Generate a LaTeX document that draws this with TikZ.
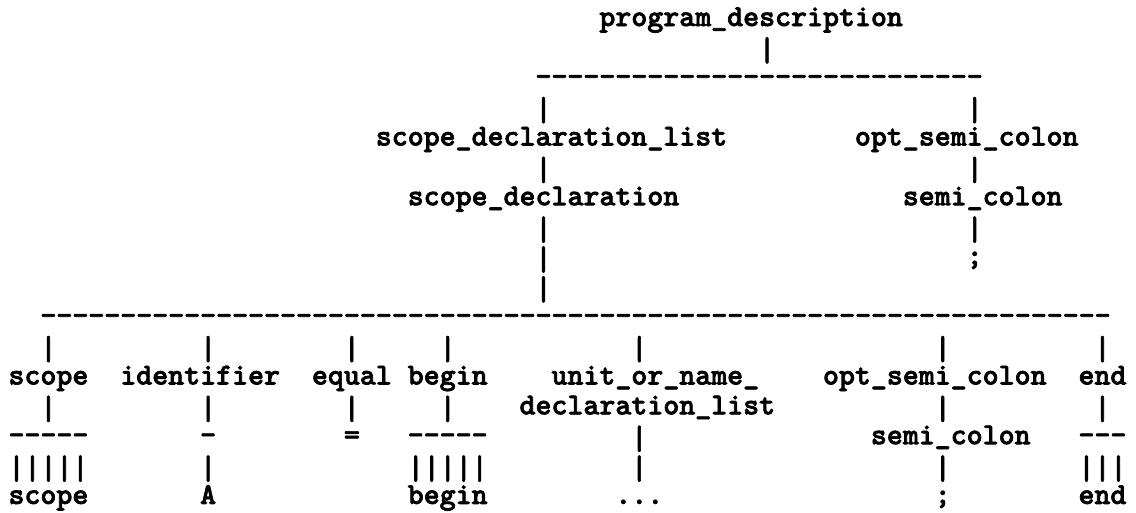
\documentclass[tikz,border=0pt]{standalone}
\usepackage{fontspec}
% heavy monospaced typewriter face for the tree text
\newfontfamily\codefamily{lmmonolt10-bold.otf}[FakeBold=2.2]
\ExplSyntaxOn
% a run of separate hyphens (kerns keep them from joining into dashes)
\cs_new:Npn \dashrun #1 { \prg_replicate:nn {#1} { -\kern0pt } }
\ExplSyntaxOff
% a tall vertical bar filling most of a text line
\newcommand\vbar{\raisebox{\dimexpr 4.1pt-(\height-\depth)/2\relax}{\resizebox*{\width}{19.5pt}{|}}}
\newcommand\vbars[1]{\foreach \k in {1,...,#1}{\vbar}}
% monospaced bold text set on a character grid
\newcommand\codefont{\codefamily\fontsize{22.82pt}{27pt}\selectfont}
\tikzset{cell/.style={anchor=base west, inner sep=0pt, outer sep=0pt, font=\codefont}}
% \glyphat{name}{column}{row}{text}
\newcommand\glyphat[4]{\node[cell] (#1) at ({8.5+#2*15.97},{26+#3*29.87}) {#4};}
\begin{document}
\begin{tikzpicture}[x=0.75pt, y=-0.75pt]
\fill[white] (0,0) rectangle (1136,512);
\useasboundingbox (0,0) rectangle (1136,512);
% root and first split
\glyphat{pd}{37}{0}{program\_description}
\glyphat{v1}{47}{1}{\vbar}
\glyphat{tdash}{33}{2}{\dashrun{28}}
\glyphat{v3a}{33}{3}{\vbar}
\glyphat{v3b}{60}{3}{\vbar}
\glyphat{sdl}{23}{4}{scope\_declaration\_list}
\glyphat{osc}{53}{4}{opt\_semi\_colon}
\glyphat{v5a}{33}{5}{\vbar}
\glyphat{v5b}{60}{5}{\vbar}
\glyphat{sd}{25}{6}{scope\_declaration}
\glyphat{sc}{56}{6}{semi\_colon}
\glyphat{v7a}{33}{7}{\vbar}
\glyphat{v7b}{60}{7}{\vbar}
\glyphat{v8a}{33}{8}{\vbar}
\glyphat{semi}{60}{8}{;}
\glyphat{v9}{33}{9}{\vbar}
% children of scope_declaration
\glyphat{bdash}{2}{10}{\dashrun{67}}
\glyphat{v11a}{2}{11}{\vbar}
\glyphat{v11b}{12}{11}{\vbar}
\glyphat{v11c}{21}{11}{\vbar}
\glyphat{v11d}{27}{11}{\vbar}
\glyphat{v11e}{39}{11}{\vbar}
\glyphat{v11f}{58}{11}{\vbar}
\glyphat{v11g}{68}{11}{\vbar}
\glyphat{kscope}{0}{12}{scope}
\glyphat{ident}{7}{12}{identifier}
\glyphat{equal}{19}{12}{equal}
\glyphat{kbegin}{25}{12}{begin}
\glyphat{unl}{34}{12}{unit\_or\_name\_}
\glyphat{osc2}{51}{12}{opt\_semi\_colon}
\glyphat{kend}{67}{12}{end}
\glyphat{v13a}{2}{13}{\vbar}
\glyphat{v13b}{12}{13}{\vbar}
\glyphat{v13c}{21}{13}{\vbar}
\glyphat{v13d}{27}{13}{\vbar}
\glyphat{dl}{32}{13}{declaration\_list}
\glyphat{v13f}{58}{13}{\vbar}
\glyphat{v13g}{68}{13}{\vbar}
\glyphat{d14a}{0}{14}{\dashrun{5}}
\glyphat{d14b}{12}{14}{\dashrun{1}}
\glyphat{eq}{21}{14}{=}
\glyphat{d14d}{25}{14}{\dashrun{5}}
\glyphat{v14e}{39}{14}{\vbar}
\glyphat{sc2}{54}{14}{semi\_colon}
\glyphat{d14g}{67}{14}{\dashrun{3}}
\glyphat{b15a}{0}{15}{\vbars{5}}
\glyphat{b15b}{12}{15}{\vbar}
\glyphat{b15d}{25}{15}{\vbars{5}}
\glyphat{v15e}{39}{15}{\vbar}
\glyphat{v15f}{58}{15}{\vbar}
\glyphat{b15g}{67}{15}{\vbars{3}}
% leaves
\glyphat{lscope}{0}{16}{scope}
\glyphat{lA}{12}{16}{A}
\glyphat{lbegin}{25}{16}{begin}
\glyphat{ldots}{38}{16}{...}
\glyphat{lsemi}{58}{16}{;}
\glyphat{lend}{67}{16}{end}
\end{tikzpicture}
\end{document}
